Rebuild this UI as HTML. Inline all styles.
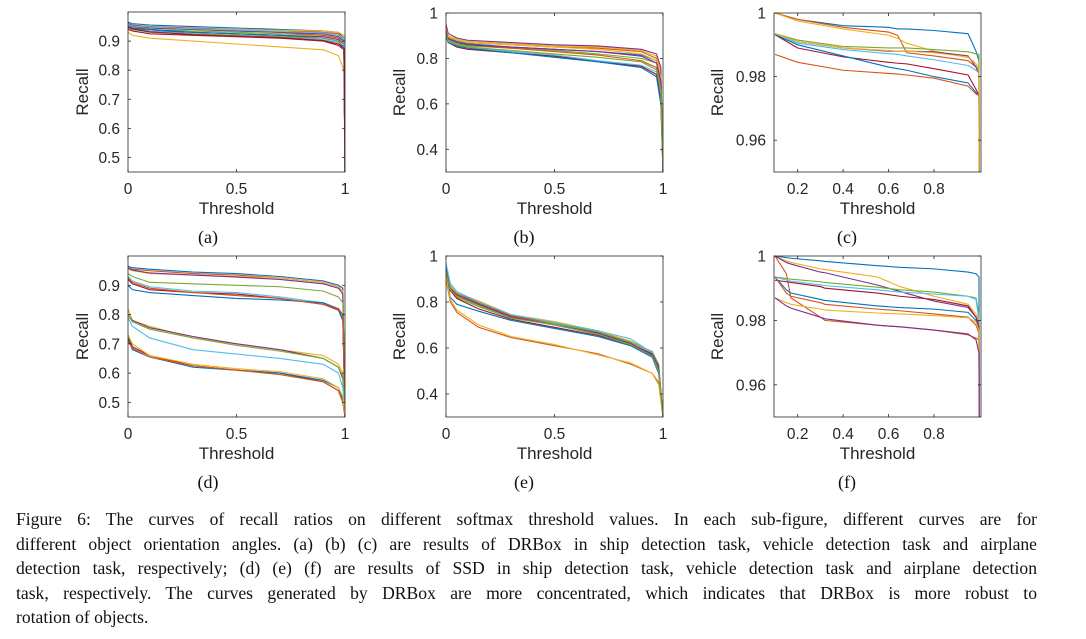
<!DOCTYPE html>
<html><head><meta charset="utf-8"><style>
body{margin:0;background:#fff;width:1086px;height:639px;overflow:hidden;position:relative}
svg{position:absolute;left:0;top:0}
.cap{position:absolute;left:16px;width:1021px;font-family:"Liberation Serif",serif;font-size:17.6px;color:#111;line-height:24.5px;top:507px;text-align:justify}
.cap div{text-align:justify;text-align-last:justify;white-space:nowrap;overflow:visible}
.cap div.last{text-align-last:left}
</style></head><body>
<svg id="fig" width="1086" height="500"></svg>
<div class="cap">
<div>Figure 6: The curves of recall ratios on different softmax threshold values. In each sub-figure, different curves are for</div>
<div>different object orientation angles. (a) (b) (c) are results of DRBox in ship detection task, vehicle detection task and airplane</div>
<div>detection task, respectively; (d) (e) (f) are results of SSD in ship detection task, vehicle detection task and airplane detection</div>
<div>task, respectively. The curves generated by DRBox are more concentrated, which indicates that DRBox is more robust to</div>
<div class="last">rotation of objects.</div>
</div>
<script>
const colors=["#0072BD","#D95319","#EDB120","#7E2F8E","#77AC30","#4DBEEE","#A2142F"];
// ---- panel (a)
const xA=[0,0.02,0.1,0.3,0.5,0.7,0.9,0.97,0.995,1];
const seriesA=[
[.965,.96,.955,.95,.945,.94,.935,.93,.91,.45],
[.96,.955,.95,.945,.94,.937,.93,.925,.9,.45],
[.955,.95,.945,.94,.94,.937,.935,.93,.92,.45],
[.95,.945,.935,.93,.925,.92,.915,.905,.89,.45],
[.955,.95,.94,.935,.93,.925,.92,.91,.89,.45],
[.945,.94,.935,.925,.92,.915,.905,.895,.88,.45],
[.94,.935,.925,.92,.915,.91,.9,.885,.87,.45],
[.95,.945,.94,.93,.925,.92,.91,.9,.88,.45],
[.955,.95,.945,.94,.935,.93,.92,.91,.89,.45],
[.93,.92,.91,.9,.89,.88,.87,.85,.8,.45],
[.96,.955,.945,.94,.935,.93,.925,.915,.9,.45],
[.945,.94,.93,.925,.92,.915,.91,.9,.87,.45],
[.958,.952,.948,.942,.938,.933,.928,.92,.905,.45],
[.948,.942,.932,.922,.917,.912,.902,.89,.875,.45]];
// ---- panel (b)
const xB=[0,0.01,0.05,0.1,0.3,0.5,0.7,0.9,0.97,0.99,1];
const seriesB=[
[.92,.89,.875,.865,.85,.84,.83,.815,.79,.7,.3],
[.93,.9,.88,.87,.86,.85,.845,.83,.8,.72,.3],
[.93,.9,.885,.875,.865,.855,.85,.835,.81,.74,.3],
[.95,.91,.89,.88,.87,.86,.855,.84,.82,.76,.3],
[.92,.88,.865,.855,.845,.835,.82,.8,.78,.7,.3],
[.91,.88,.86,.85,.83,.815,.79,.77,.74,.65,.3],
[.9,.87,.85,.84,.825,.81,.785,.765,.73,.62,.3],
[.9,.87,.855,.845,.825,.805,.785,.76,.72,.6,.3],
[.92,.89,.87,.86,.845,.83,.815,.79,.76,.68,.3],
[.93,.895,.88,.87,.86,.85,.84,.82,.79,.72,.3],
[.92,.885,.87,.86,.85,.84,.83,.81,.78,.7,.3],
[.91,.875,.86,.85,.835,.82,.805,.785,.75,.66,.3]];
// ---- panel (c)
const xC=[0.1,0.2,0.4,0.6,0.64,0.68,0.8,0.95,0.985,0.998,0.999];
const seriesC=[
[1,.998,.996,.9955,.995,.995,.9945,.9935,.988,.985,.95],
[1,.998,.9955,.994,.993,.9875,.9865,.985,.983,.981,.95],
[1,.9975,.995,.993,.992,.9905,.988,.986,.984,.982,.95],
[.9935,.991,.989,.988,.988,.988,.9878,.9865,.983,.981,.95],
[.9935,.9915,.9895,.989,.989,.989,.9885,.9878,.9872,.987,.95],
[.9935,.9905,.9885,.9872,.987,.9865,.9853,.9835,.982,.981,.95],
[.9932,.989,.9862,.9845,.9842,.984,.9825,.9805,.976,.974,.95],
[.9932,.99,.9865,.983,.9825,.982,.980,.978,.975,.974,.95],
[.987,.9845,.982,.981,.9808,.9805,.9795,.977,.9745,.974,.95],
[.9935,.991,.989,.9882,.988,.988,.9875,.9862,.984,.982,.95]];
// ---- panel (d)
const xD=[0,0.02,0.1,0.3,0.5,0.7,0.9,0.97,0.99,1];
const seriesD=[
[.965,.96,.955,.945,.94,.93,.915,.9,.89,.45],
[.96,.955,.95,.94,.935,.925,.91,.895,.88,.45],
[.955,.95,.94,.935,.93,.925,.91,.895,.88,.45],
[.96,.952,.942,.935,.928,.92,.905,.89,.87,.45],
[.94,.93,.91,.905,.9,.895,.88,.86,.84,.45],
[.93,.915,.895,.88,.875,.86,.84,.82,.79,.45],
[.92,.905,.885,.875,.87,.855,.835,.815,.78,.45],
[.9,.885,.875,.865,.855,.85,.84,.82,.78,.45],
[.925,.91,.89,.875,.865,.855,.835,.82,.8,.45],
[.82,.78,.76,.72,.7,.68,.66,.63,.6,.45],
[.8,.78,.755,.725,.7,.68,.65,.62,.58,.45],
[.8,.775,.75,.72,.695,.675,.65,.62,.59,.45],
[.79,.76,.72,.68,.665,.65,.63,.6,.55,.45],
[.73,.69,.66,.625,.61,.6,.57,.54,.5,.45],
[.72,.68,.655,.62,.61,.6,.575,.55,.51,.45],
[.71,.685,.655,.625,.61,.595,.57,.54,.5,.45],
[.73,.7,.66,.63,.615,.605,.58,.55,.52,.45]];
// ---- panel (e)
const xE=[0,0.02,0.05,0.15,0.3,0.5,0.7,0.85,0.95,0.98,1];
const seriesE=[
[.95,.87,.84,.8,.74,.71,.67,.63,.58,.52,.3],
[.93,.86,.835,.795,.74,.705,.665,.62,.57,.51,.3],
[.94,.87,.84,.805,.745,.715,.675,.63,.58,.52,.3],
[.93,.86,.83,.79,.735,.7,.66,.62,.57,.5,.3],
[.92,.85,.82,.78,.73,.705,.67,.625,.585,.53,.3],
[.97,.88,.845,.8,.745,.71,.675,.64,.58,.52,.3],
[.93,.85,.815,.77,.725,.69,.655,.615,.565,.5,.3],
[.92,.82,.79,.76,.72,.685,.65,.61,.56,.49,.3],
[.9,.8,.755,.69,.645,.61,.575,.53,.49,.45,.3],
[.91,.81,.765,.7,.65,.615,.57,.535,.49,.44,.3],
[.94,.86,.83,.79,.735,.7,.665,.62,.575,.52,.3],
[.93,.855,.825,.785,.73,.7,.66,.615,.565,.5,.3]];
// ---- panel (f)
const xF=[0.1,0.15,0.17,0.3,0.32,0.55,0.65,0.8,0.95,0.985,0.998,0.999];
const seriesF=[
[1,.9995,.9993,.9985,.9983,.997,.9965,.996,.995,.9945,.9935,.97],
[1,.9945,.987,.981,.980,.9785,.978,.977,.9755,.9745,.974,.95],
[1,.9985,.998,.996,.9958,.9935,.9905,.9875,.985,.982,.98,.95],
[1,.998,.9975,.995,.9948,.991,.989,.986,.984,.981,.979,.95],
[.9935,.993,.9928,.992,.9918,.9903,.9895,.9888,.9875,.987,.982,.95],
[.9935,.9925,.9922,.991,.9908,.9895,.9888,.9882,.9875,.9865,.98,.95],
[.9925,.992,.9918,.9905,.99,.9885,.9875,.9865,.9845,.981,.978,.95],
[.9935,.9895,.9885,.9865,.9862,.9845,.984,.9835,.9825,.98,.977,.95],
[.9935,.9885,.9875,.9855,.985,.9835,.983,.982,.981,.9785,.976,.95],
[.987,.9855,.985,.9835,.9832,.9823,.982,.9815,.9808,.9795,.977,.95],
[.987,.9845,.9838,.981,.9805,.9785,.978,.977,.9758,.974,.97,.95]];

const svg=document.getElementById('fig');
const NS='http://www.w3.org/2000/svg';
function mk(tag,attrs,parent){const e=document.createElementNS(NS,tag);for(const k in attrs)e.setAttribute(k,attrs[k]);(parent||svg).appendChild(e);return e;}
const panels=[
{id:'a',x0:128,x1:345,y0:12,y1:172,xd:[0,1],yd:[0.45,1],xt:[0,0.5,1],xl:['0','0.5','1'],yt:[0.5,0.6,0.7,0.8,0.9],yl:['0.5','0.6','0.7','0.8','0.9'],xs:xA,ss:seriesA},
{id:'b',x0:446,x1:663,y0:13,y1:172,xd:[0,1],yd:[0.3,1],xt:[0,0.5,1],xl:['0','0.5','1'],yt:[0.4,0.6,0.8,1],yl:['0.4','0.6','0.8','1'],xs:xB,ss:seriesB},
{id:'c',x0:774,x1:981,y0:13,y1:172,xd:[0.0957,1.007],yd:[0.95,1],xt:[0.2,0.4,0.6,0.8],xl:['0.2','0.4','0.6','0.8'],yt:[0.96,0.98,1],yl:['0.96','0.98','1'],xs:xC,ss:seriesC},
{id:'d',x0:128,x1:345,y0:256,y1:417,xd:[0,1],yd:[0.45,1],xt:[0,0.5,1],xl:['0','0.5','1'],yt:[0.5,0.6,0.7,0.8,0.9],yl:['0.5','0.6','0.7','0.8','0.9'],xs:xD,ss:seriesD},
{id:'e',x0:446,x1:663,y0:256,y1:417,xd:[0,1],yd:[0.3,1],xt:[0,0.5,1],xl:['0','0.5','1'],yt:[0.4,0.6,0.8,1],yl:['0.4','0.6','0.8','1'],xs:xE,ss:seriesE},
{id:'f',x0:774,x1:981,y0:256,y1:417,xd:[0.0957,1.007],yd:[0.95,1],xt:[0.2,0.4,0.6,0.8],xl:['0.2','0.4','0.6','0.8'],yt:[0.96,0.98,1],yl:['0.96','0.98','1'],xs:xF,ss:seriesF}];
const font='"Liberation Sans",sans-serif';
const labelX={a:208,b:524,c:847,d:208,e:524,f:847};
panels.forEach(p=>{
  const g=mk('g',{});
  
  
  const sx=v=>p.x0+(v-p.xd[0])/(p.xd[1]-p.xd[0])*(p.x1-p.x0);
  const sy=v=>p.y1-(v-p.yd[0])/(p.yd[1]-p.yd[0])*(p.y1-p.y0);
  const clip=mk('clipPath',{id:'clip'+p.id},g);
  mk('rect',{x:p.x0,y:p.y0,width:p.x1-p.x0,height:p.y1-p.y0},clip);
  const lines=mk('g',{'clip-path':'url(#clip'+p.id+')'},g);
  p.ss.forEach((s,i)=>{
    const d=s.map((v,j)=>(j?'L':'M')+sx(p.xs[j]).toFixed(2)+','+sy(v).toFixed(2)).join('');
    const path=mk('path',{d:d,fill:'none',stroke:colors[i%7],'stroke-width':1.1},lines);
    
    
  });
  const frame=mk('rect',{x:p.x0,y:p.y0,width:p.x1-p.x0,height:p.y1-p.y0,fill:'none',stroke:'#262626','stroke-width':0.8},g);
  
  
  p.xt.forEach((t,i)=>{
    const x=sx(t);
    mk('line',{x1:x,x2:x,y1:p.y1,y2:p.y1-3,stroke:'#262626','stroke-width':0.8},g);
    mk('line',{x1:x,x2:x,y1:p.y0,y2:p.y0+3,stroke:'#262626','stroke-width':0.8},g);
    const tx=mk('text',{x:x,y:p.y1+22,'text-anchor':'middle','font-family':font,'font-size':15.5,fill:'#262626'},g);
    tx.textContent=p.xl[i];
    
    
  });
  p.yt.forEach((t,i)=>{
    const y=sy(t);
    mk('line',{x1:p.x0,x2:p.x0+3,y1:y,y2:y,stroke:'#262626','stroke-width':0.8},g);
    mk('line',{x1:p.x1,x2:p.x1-3,y1:y,y2:y,stroke:'#262626','stroke-width':0.8},g);
    const tx=mk('text',{x:p.x0-8,y:y+5.5,'text-anchor':'end','font-family':font,'font-size':15.5,fill:'#262626'},g);
    tx.textContent=p.yl[i];
    
    
  });
  const xtitle=mk('text',{x:(p.x0+p.x1)/2,y:p.y1+42,'text-anchor':'middle','font-family':font,'font-size':17,fill:'#262626'},g);
  xtitle.textContent='Threshold';
  
  
  const yx=p.id==='a'||p.id==='d'?88:(p.id==='b'||p.id==='e'?405:723);
  const ytitle=mk('text',{x:yx,y:(p.y0+p.y1)/2,'text-anchor':'middle','font-family':font,'font-size':17,fill:'#262626',transform:'rotate(-90 '+yx+' '+(p.y0+p.y1)/2+')'},g);
  ytitle.textContent='Recall';
  
  
  const lab=mk('text',{x:labelX[p.id],y:p.y1+71,'text-anchor':'middle','font-family':'"Liberation Serif",serif','font-size':18,fill:'#111'},g);
  lab.textContent='('+p.id+')';
  
  
});
</script>
</body></html>
